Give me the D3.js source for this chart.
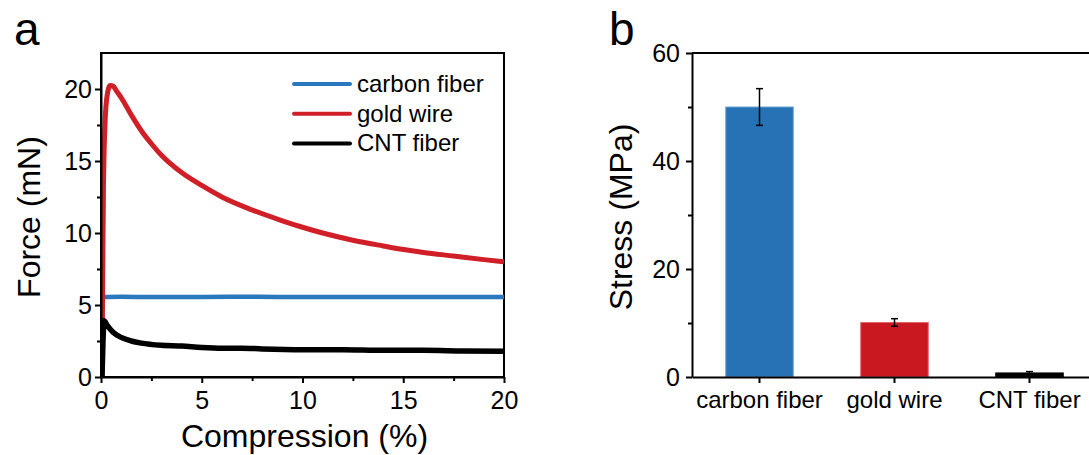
<!DOCTYPE html>
<html>
<head>
<meta charset="utf-8">
<script src="https://cdn.jsdelivr.net/npm/d3@7"></script>
<style>
  body { margin: 0; background: #fff; }
  svg { font-family: "Liberation Sans", Arial, sans-serif; }
  .axis path, .axis line { stroke: #000; stroke-width: 2; }
  .axis text { fill: #000; }
</style>
</head>
<body>
<div id="chart"></div>
<script>
const width = 1089;
const height = 455;

// panel a: force vs compression
const carbonX = [0.05, 1, 2.5, 5, 7.5, 10, 12.5, 15, 17.5, 20];
const carbonY = [5.55, 5.57, 5.55, 5.56, 5.57, 5.55, 5.56, 5.55, 5.56, 5.55];

const goldX = [0.05, 0.08, 0.12, 0.2, 0.3, 0.45, 0.6, 0.8, 1.0, 1.5, 2.0, 2.5, 3.0, 4.0, 5.0, 6.0, 7.5, 9.0, 10.0, 11.0, 12.5, 14.0, 15.0, 16.0, 17.5, 19.0, 20.0];
const goldY = [0, 6, 13, 17.6, 19.5, 20.25, 20.2, 19.8, 19.4, 18.2, 17.1, 16.2, 15.4, 14.2, 13.3, 12.5, 11.6, 10.85, 10.4, 10.0, 9.5, 9.1, 8.85, 8.65, 8.4, 8.15, 8.0];

const cntX = [0.05, 0.1, 0.15, 0.3, 0.6, 1.0, 1.5, 2.0, 3.0, 4.0, 5.0, 6.0, 7.0, 8.0, 10.0, 12.0, 14.0, 16.0, 18.0, 20.0];
const cntY = [0, 2.5, 3.9, 3.6, 3.1, 2.75, 2.5, 2.35, 2.2, 2.15, 2.05, 2.0, 2.0, 1.95, 1.9, 1.9, 1.85, 1.85, 1.8, 1.78];

const lineNames = ["carbon fiber", "gold wire", "CNT fiber"];
const lineColors = ["#2a78bd", "#d01f27", "#000000"];
const lineWidths = [4.5, 5, 5.5];

// panel b: stress bars
const categories = ["carbon fiber", "gold wire", "CNT fiber"];
const stress = [50.0, 10.1, 0.75];
const stressErr = [3.4, 0.7, 0.25];
const barColors = ["#2672b5", "#c9181f", "#000000"];
const barEdges = ["#6fa3d8", "#e2686d", "#000000"];

const xTicksA = [0, 5, 10, 15, 20];
const yTicksA = [0, 5, 10, 15, 20];
const yTicksB = [0, 20, 40, 60];

const svg = d3.select("#chart").append("svg")
    .attr("width", width)
    .attr("height", height);

// ---------- panel a ----------
const xA = d3.scaleLinear().domain([0, 20]).range([101, 504]);
const yA = d3.scaleLinear().domain([0, 22.5]).range([377, 53]);

svg.append("rect")
    .attr("x", xA(0))
    .attr("y", yA(22.5))
    .attr("width", xA(20) - xA(0))
    .attr("height", yA(0) - yA(22.5))
    .attr("fill", "none")
    .attr("stroke", "#000")
    .attr("stroke-width", 2);

svg.append("clipPath").attr("id", "clipA")
    .append("rect")
    .attr("x", xA(0))
    .attr("y", yA(22.5))
    .attr("width", xA(20) - xA(0))
    .attr("height", yA(0) - yA(22.5));

const series = [
    carbonX.map((x, i) => [x, carbonY[i]]),
    goldX.map((x, i) => [x, goldY[i]]),
    cntX.map((x, i) => [x, cntY[i]])
];

const line = d3.line()
    .x(d => xA(d[0]))
    .y(d => yA(d[1]))
    .curve(d3.curveMonotoneX);

svg.append("g").attr("clip-path", "url(#clipA)")
    .selectAll("path")
    .data(series)
    .join("path")
    .attr("d", line)
    .attr("fill", "none")
    .attr("stroke", (d, i) => lineColors[i])
    .attr("stroke-width", (d, i) => lineWidths[i])
    .attr("stroke-linejoin", "round");

svg.append("g")
    .attr("class", "axis")
    .attr("transform", `translate(0,${yA(0)})`)
    .call(d3.axisBottom(xA).tickValues(xTicksA).tickSize(6).tickPadding(8).tickSizeOuter(0))
    .call(g => g.selectAll("text").attr("font-size", 25));

svg.append("g")
    .attr("class", "axis")
    .attr("transform", `translate(0,${yA(0)})`)
    .call(d3.axisBottom(xA).tickValues([2.5, 7.5, 12.5, 17.5]).tickSize(4).tickFormat("").tickSizeOuter(0))
    .call(g => g.select(".domain").remove());

svg.append("g")
    .attr("class", "axis")
    .attr("transform", `translate(${xA(0)},0)`)
    .call(d3.axisLeft(yA).tickValues(yTicksA).tickSize(6).tickPadding(3).tickSizeOuter(0))
    .call(g => g.selectAll("text").attr("font-size", 25));

svg.append("g")
    .attr("class", "axis")
    .attr("transform", `translate(${xA(0)},0)`)
    .call(d3.axisLeft(yA).tickValues([2.5, 7.5, 12.5, 17.5]).tickSize(4).tickFormat("").tickSizeOuter(0))
    .call(g => g.select(".domain").remove());

svg.append("text")
    .attr("x", (xA(0) + xA(20)) / 2 + 2)
    .attr("y", 447)
    .attr("text-anchor", "middle")
    .attr("font-size", 32)
    .text("Compression (%)");

svg.append("text")
    .attr("transform", `translate(40,${(yA(0) + yA(22.5)) / 2 + 2}) rotate(-90)`)
    .attr("text-anchor", "middle")
    .attr("font-size", 32)
    .text("Force (mN)");

// legend
const legend = svg.append("g")
    .selectAll("g")
    .data(lineNames)
    .join("g")
    .attr("transform", (d, i) => `translate(294,${84 + i * 29.7})`);

legend.append("line")
    .attr("x1", 0).attr("x2", 56)
    .attr("stroke", (d, i) => lineColors[i])
    .attr("stroke-width", 4)
    .attr("stroke-linecap", "round");

legend.append("text")
    .attr("x", 63)
    .attr("y", 8)
    .attr("font-size", 24)
    .text(d => d);

svg.append("text")
    .attr("x", 14)
    .attr("y", 45)
    .attr("font-size", 46)
    .text("a");

// ---------- panel b ----------
const xB = d3.scaleBand()
    .domain(categories)
    .range([692, 1097])
    .paddingInner(0.5)
    .paddingOuter(0.25);
const yB = d3.scaleLinear().domain([0, 60]).range([377, 53]);

svg.append("g")
    .selectAll("rect")
    .data(categories)
    .join("rect")
    .attr("x", d => xB(d))
    .attr("y", (d, i) => yB(stress[i]))
    .attr("width", xB.bandwidth())
    .attr("height", (d, i) => yB(0) - yB(stress[i]))
    .attr("fill", (d, i) => barColors[i])
    .attr("stroke", (d, i) => barEdges[i])
    .attr("stroke-width", 1);

const errs = svg.append("g")
    .selectAll("g")
    .data(categories)
    .join("g")
    .attr("transform", d => `translate(${xB(d) + xB.bandwidth() / 2},0)`);

errs.append("line")
    .attr("y1", (d, i) => yB(stress[i] + stressErr[i]))
    .attr("y2", (d, i) => yB(stress[i] - stressErr[i]))
    .attr("stroke", "#000")
    .attr("stroke-width", 1.5);

errs.selectAll("line.cap")
    .data((d, i) => [stress[i] + stressErr[i], stress[i] - stressErr[i]])
    .join("line")
    .attr("class", "cap")
    .attr("x1", -3.5).attr("x2", 3.5)
    .attr("y1", v => yB(v)).attr("y2", v => yB(v))
    .attr("stroke", "#000")
    .attr("stroke-width", 1.5);

svg.append("line")
    .attr("x1", 692).attr("x2", width)
    .attr("y1", yB(60)).attr("y2", yB(60))
    .attr("stroke", "#000")
    .attr("stroke-width", 2);

svg.append("g")
    .attr("class", "axis")
    .attr("transform", `translate(0,${yB(0)})`)
    .call(d3.axisBottom(xB).tickSize(6).tickPadding(8).tickSizeOuter(0))
    .call(g => g.selectAll("text").attr("font-size", 24));

svg.append("g")
    .attr("class", "axis")
    .attr("transform", "translate(692,0)")
    .call(d3.axisLeft(yB).tickValues(yTicksB).tickSize(6).tickPadding(6).tickSizeOuter(0))
    .call(g => g.selectAll("text").attr("font-size", 25));

svg.append("g")
    .attr("class", "axis")
    .attr("transform", "translate(692,0)")
    .call(d3.axisLeft(yB).tickValues([10, 30, 50]).tickSize(4).tickFormat("").tickSizeOuter(0))
    .call(g => g.select(".domain").remove());

svg.append("text")
    .attr("transform", `translate(632,${(yB(0) + yB(60)) / 2 + 2}) rotate(-90)`)
    .attr("text-anchor", "middle")
    .attr("font-size", 32)
    .text("Stress (MPa)");

svg.append("text")
    .attr("x", 609)
    .attr("y", 45)
    .attr("font-size", 46)
    .text("b");
</script>
</body>
</html>
